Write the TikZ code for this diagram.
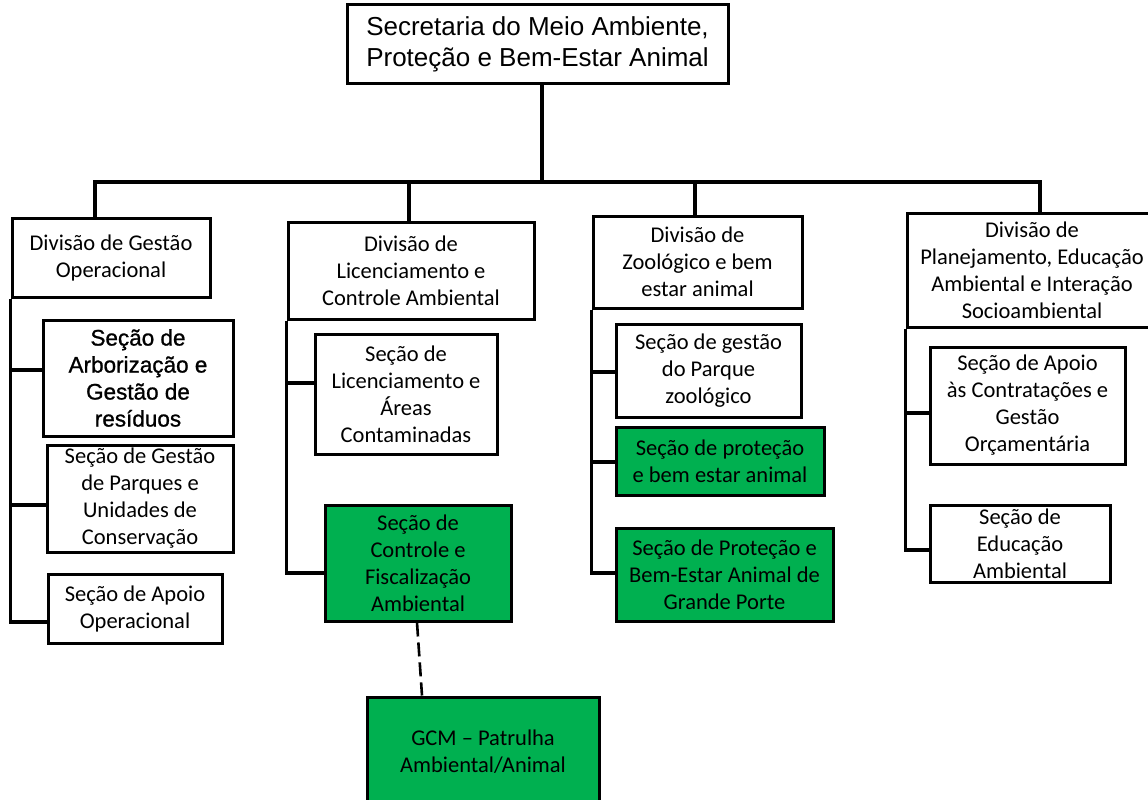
\documentclass[tikz,border=0pt]{standalone}
\usepackage{fontspec}
\setmainfont{Carlito}
\newfontfamily\arialf{Liberation Sans}
\newfontfamily\arialbf[FakeBold=1]{Liberation Sans}
\definecolor{boxgreen}{HTML}{00B050}
\begin{document}
\begin{tikzpicture}[x=1pt,y=-1pt,
  box/.style={draw=black, line width=3pt, fill=white, inner sep=0pt, align=center,
    font=\fontsize{22.5}{27}\selectfont},
  gbox/.style={box, fill=boxgreen},
  conn/.style={line width=3.2pt, line join=miter},
  dashconn/.style={line width=2.6pt, dash pattern=on 14pt off 6pt},
]
\useasboundingbox (0,0) rectangle (1148,800);
\clip (0,0) rectangle (1148,800);

% top
\node[box, minimum width=381pt, minimum height=78pt, font=\arialf\fontsize{26}{31}\selectfont] (top) at (537.5,44)
  {Secretaria do Meio Ambiente,\\Proteção e Bem-Estar Animal};

% divisions
\node[box, minimum width=198pt, minimum height=79pt] (d1) at (111,257.5) {Divisão de Gestão\\Operacional};
\node[box, minimum width=246pt, minimum height=97pt] (d2) at (411,270.5) {Divisão de\\Licenciamento e\\Controle Ambiental};
\node[box, minimum width=209pt, minimum height=92pt] (d3) at (697.5,262) {Divisão de\\Zoológico e bem\\estar animal};
\node[box, minimum width=250pt, minimum height=114pt] (d4) at (1032,270) {Divisão de\\Planejamento, Educação\\Ambiental e Interação\\Socioambiental};

% sections column 1
\node[box, minimum width=190pt, minimum height=116pt, font=\arialbf\fontsize{22.5}{27}\selectfont] (s1a) at (138,378) {Seção de\\Arborização e\\Gestão de\\resíduos};
\node[box, minimum width=186pt, minimum height=107pt] (s1b) at (140,498.5) {Seção de Gestão\\de Parques e\\Unidades de\\Conservação};
\node[box, minimum width=174pt, minimum height=69pt] (s1c) at (135,608.5) {Seção de Apoio\\Operacional};

% column 2
\node[box, minimum width=182pt, minimum height=120pt] (s2a) at (406,394) {Seção de\\Licenciamento e\\Áreas\\Contaminadas};
\node[gbox, minimum width=186pt, minimum height=116pt] (s2b) at (418,563) {Seção de\\Controle e\\Fiscalização\\Ambiental};
\node[gbox, minimum width=232pt, minimum height=109pt] (gcm) at (483,751.5) {GCM -- Patrulha\\Ambiental/Animal};

% column 3
\node[box, minimum width=185pt, minimum height=93pt] (s3a) at (708.5,370.5) {Seção de gestão\\do Parque\\zoológico};
\node[gbox, minimum width=208pt, minimum height=68pt] (s3b) at (720,461) {Seção de proteção\\e bem estar animal};
\node[gbox, minimum width=217pt, minimum height=93pt] (s3c) at (724.5,574.5) {Seção de Proteção e\\Bem-Estar Animal de\\Grande Porte};

% column 4
\node[box, minimum width=195pt, minimum height=117pt] (s4a) at (1027.5,405.5) {Seção de Apoio\\às Contratações e\\Gestão\\Orçamentária};
\node[box, minimum width=180pt, minimum height=77pt] (s4b) at (1020,543.5) {Seção de\\Educação\\Ambiental};

% bus
\coordinate (b0) at (542,182);
\coordinate (bL) at (95,182);
\coordinate (b2) at (409,182);
\coordinate (b3) at (695,182);
\coordinate (bR) at (1040,182);
\draw[conn] (top.south -| b0) -- (b0);
\draw[conn] (d1.north -| bL) |- (bR) -- (d4.north -| bR);
\draw[conn] (b2) -- (d2.north -| b2);
\draw[conn] (b3) -- (d3.north -| b3);

% spines
\draw[conn] (d1.south west) |- (s1c.west |- 0,622);
\draw[conn] (d1.south west |- 0,370) -- (s1a.west |- 0,370);
\draw[conn] (d1.south west |- 0,505) -- (s1b.west |- 0,505);

\draw[conn] (d2.south west) |- (s2b.west |- 0,573);
\draw[conn] (d2.south west |- 0,383) -- (s2a.west |- 0,383);

\draw[conn] (d3.south west) |- (s3c.west |- 0,573);
\draw[conn] (d3.south west |- 0,372) -- (s3a.west |- 0,372);
\draw[conn] (d3.south west |- 0,462) -- (s3b.west |- 0,462);

\draw[conn] (d4.south west) |- (s4b.west |- 0,550);
\draw[conn] (d4.south west |- 0,413) -- (s4a.west |- 0,413);

% dashed link
\draw[dashconn] (s2b.south -| 417,0) -- (gcm.north -| 422,0);
\end{tikzpicture}
\end{document}
